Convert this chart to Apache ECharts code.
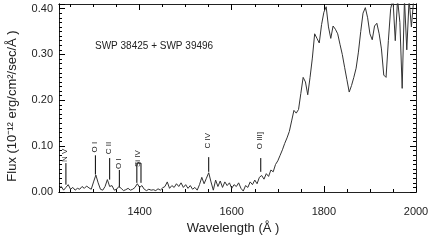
<!DOCTYPE html>
<html><head><meta charset="utf-8">
<script src="https://cdn.jsdelivr.net/npm/echarts@6/dist/echarts.min.js"></script>
<style>html,body{margin:0;padding:0;background:#fff}#c{width:436px;height:240px}</style>
</head><body><div id="c"></div>
<script>
const wavelengths = [
1225,1230,1235,1240,1245,1250,1255,1260,1265,1270,
1275,1280,1285,1290,1295,1300,1305,1310,1315,1320,
1325,1330,1335,1340,1345,1350,1355,1360,1365,1370,
1375,1380,1385,1390,1395,1400,1405,1410,1415,1420,
1425,1430,1435,1440,1445,1450,1455,1460,1465,1470,
1475,1480,1485,1490,1495,1500,1505,1510,1515,1520,
1525,1530,1535,1540,1545,1550,1555,1560,1565,1570,
1575,1580,1585,1590,1595,1600,1605,1610,1615,1620,
1625,1630,1635,1640,1645,1650,1655,1660,1665,1670,
1675,1680,1685,1690,1695,1700,1705,1710,1715,1720,
1725,1730,1735,1740,1745,1750,1755,1760,1765,1770,
1775,1780,1785,1790,1795,1800,1805,1810,1815,1820,
1825,1830,1835,1840,1845,1850,1855,1860,1865,1870,
1875,1880,1885,1890,1895,1900,1905,1910,1915,1920,
1925,1930,1935,1940,1945,1950,1955,1960,1965,1970,
1975,1980,1985,1990,1995,2000];
const flux = [
0.008,0.012,0.004,0.010,0.016,0.006,0.010,0.004,0.008,0.006,
0.012,0.008,0.013,0.009,0.006,0.022,0.037,0.020,0.006,0.004,
0.012,0.027,0.012,0.014,0.004,0.006,0.012,0.008,0.003,0.005,
0.008,0.004,0.006,0.010,0.018,0.010,0.014,0.006,0.003,0.006,
0.004,0.005,0.003,0.007,0.004,0.009,0.012,0.022,0.008,0.014,
0.010,0.018,0.012,0.020,0.010,0.016,0.008,0.014,0.006,0.010,
0.004,0.016,0.032,0.018,0.030,0.042,0.022,0.004,0.026,0.012,
0.024,0.010,0.022,0.014,0.020,0.008,0.016,0.012,0.020,0.008,
0.002,0.014,0.010,0.022,0.016,0.026,0.018,0.032,0.036,0.028,
0.040,0.034,0.048,0.044,0.060,0.068,0.080,0.092,0.106,0.118,
0.132,0.155,0.178,0.172,0.180,0.215,0.250,0.240,0.212,0.250,
0.292,0.345,0.335,0.325,0.365,0.392,0.404,0.360,0.335,0.362,
0.355,0.345,0.322,0.300,0.272,0.245,0.218,0.232,0.250,0.270,
0.305,0.350,0.390,0.402,0.380,0.345,0.332,0.362,0.368,0.345,
0.312,0.255,0.250,0.330,0.400,0.420,0.330,0.420,0.370,0.226,
0.420,0.310,0.420,0.360,0.420,0.420];

// emission line identifications
const lineNames  = ['N V', 'O I', 'C II', 'O I', 'Si IV', 'C IV', 'O III]'];
const lineWave   = [1240, 1304, 1335, 1356, 1394, 1550, 1663];
const lineWave2  = [null, null, null, null, 1403, null, null];
const lineLow    = [0.016, 0.038, 0.027, 0.010, 0.020, 0.044, 0.044];
const lineHigh   = [0.063, 0.080, 0.074, 0.048, 0.063, 0.076, 0.074];
const labelFlux  = [0.080, 0.098, 0.096, 0.062, 0.073, 0.112, 0.112];

const xTickValues = [1400, 1600, 1800, 2000];
const yTickValues = [0.00, 0.10, 0.20, 0.30, 0.40];

const X_MIN = 1225, X_MAX = 2000, Y_MIN = 0, Y_MAX = 0.41;
const FONT = 'Liberation Sans, Arial, sans-serif';
const INK = '#222';

const chart = echarts.init(document.getElementById('c'), null, {renderer: 'canvas'});

function xAx(pos, major, showLabel) {
  return {
    type: 'value', position: pos, offset: 0, min: X_MIN, max: X_MAX,
    splitNumber: major ? 4 : 16,
    splitLine: {show: false},
    axisLine: {show: true, lineStyle: {color: INK, width: 1}, onZero: false},
    axisTick: {show: true, inside: true, length: major ? 6 : 3, lineStyle: {color: '#000', width: 1}},
    axisLabel: {show: showLabel, margin: 14, fontSize: 11, fontFamily: FONT, color: INK,
      formatter: v => xTickValues.some(t => Math.abs(t - v) < 1e-6) ? String(v) : ''}
  };
}
function yAx(pos, major, showLabel) {
  return {
    type: 'value', position: pos, offset: 0, min: Y_MIN, max: Y_MAX, interval: major ? 0.1 : 0.01,
    splitLine: {show: false},
    axisLine: {show: true, lineStyle: {color: INK, width: 1}, onZero: false},
    axisTick: {show: true, inside: true, length: major ? 6 : 3, lineStyle: {color: '#000', width: 1}},
    axisLabel: {show: showLabel, margin: 6, fontSize: 11, fontFamily: FONT, color: INK,
      formatter: v => yTickValues.some(t => Math.abs(t - v) < 1e-6) ? v.toFixed(2) : ''}
  };
}

const option = {
  animation: false,
  backgroundColor: '#fff',
  grid: {left: 59, right: 20, top: 4, bottom: 48, containLabel: false},
  xAxis: [xAx('bottom', true, true), xAx('top', true, false), xAx('bottom', false, false), xAx('top', false, false)],
  yAxis: [yAx('left', true, true), yAx('right', true, false), yAx('left', false, false), yAx('right', false, false)],
  graphic: [
    {type: 'text', x: 233, y: 228, style: {text: 'Wavelength (Å )', font: '13px ' + FONT, fill: INK, align: 'center', verticalAlign: 'middle'}},
    {type: 'text', x: 12, y: 106, rotation: Math.PI / 2, style: {text: 'Flux (10⁻¹² erg/cm²/sec/Å )', font: '13px ' + FONT, fill: INK, align: 'center', verticalAlign: 'middle'}},
    {type: 'text', x: 95, y: 46, style: {text: 'SWP 38425 + SWP 39496', font: '10px ' + FONT, fill: INK, align: 'left', verticalAlign: 'middle'}}
  ],
  series: [
    {
      type: 'line', xAxisIndex: 0, yAxisIndex: 0,
      data: wavelengths.map((w, i) => [w, flux[i]]),
      showSymbol: false, symbol: 'none', clip: true,
      lineStyle: {color: '#333', width: 1}
    },
    {
      type: 'custom', xAxisIndex: 0, yAxisIndex: 0, clip: false, silent: true,
      data: lineNames.map((n, i) => [i]),
      renderItem: function (params, api) {
        const i = api.value(0);
        const lo = api.coord([lineWave[i], lineLow[i]]);
        const hi = api.coord([lineWave[i], lineHigh[i]]);
        const children = [];
        const ls = {stroke: '#000', lineWidth: 1, fill: null};
        let cx = hi[0];
        if (lineWave2[i] != null) {
          const lo2 = api.coord([lineWave2[i], lineLow[i]]);
          const hi2 = api.coord([lineWave2[i], lineHigh[i]]);
          children.push({type: 'polyline', shape: {points: [lo, hi, hi2, lo2]}, style: ls});
          cx = (hi[0] + hi2[0]) / 2;
        } else {
          children.push({type: 'line', shape: {x1: lo[0], y1: lo[1], x2: hi[0], y2: hi[1]}, style: ls});
        }
        const lp = api.coord([lineWave[i], labelFlux[i]]);
        children.push({type: 'text', x: cx - 1, y: lp[1], rotation: Math.PI / 2,
          style: {text: lineNames[i], font: '8px ' + FONT, fill: INK, align: 'center', verticalAlign: 'middle'}});
        return {type: 'group', children: children};
      }
    }
  ]
};
chart.setOption(option);
</script>
</body></html>
